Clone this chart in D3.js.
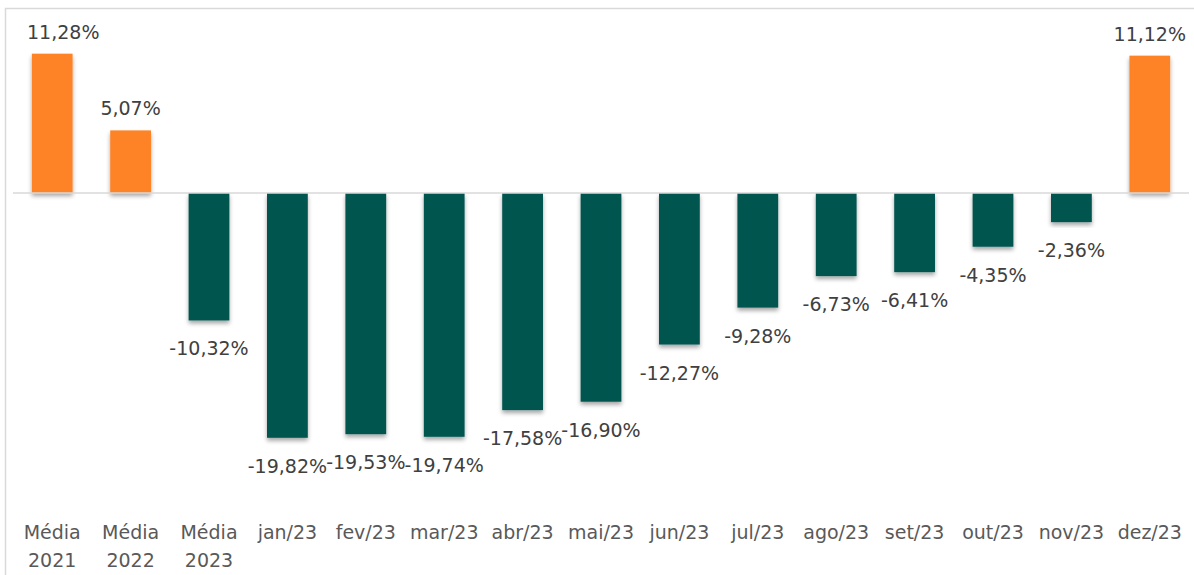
<!DOCTYPE html>
<html>
<head>
<meta charset="utf-8">
<script src="https://cdn.jsdelivr.net/npm/d3@7"></script>
<style>
  body { margin: 0; background: #fff; }
  svg { display: block; }
  text { font-family: "DejaVu Sans", sans-serif; }
</style>
</head>
<body>
<script>
const categories = ["Média 2021", "Média 2022", "Média 2023", "jan/23", "fev/23", "mar/23", "abr/23",
    "mai/23", "jun/23", "jul/23", "ago/23", "set/23", "out/23", "nov/23", "dez/23"];
const values = [11.28, 5.07, -10.32, -19.82, -19.53, -19.74, -17.58,
    -16.9, -12.27, -9.28, -6.73, -6.41, -4.35, -2.36, 11.12];
const highlighted = ["Média 2021", "Média 2022", "dez/23"];

const width = 1194, height = 575;

const svg = d3.select("body").append("svg")
    .attr("width", width)
    .attr("height", height);

const defs = svg.append("defs");
const shadow = defs.append("filter").attr("id", "shadow")
    .attr("x", "-20%").attr("y", "-10%").attr("width", "140%").attr("height", "130%");
shadow.append("feDropShadow")
    .attr("dx", 0).attr("dy", 3).attr("stdDeviation", 2)
    .attr("flood-color", "#000").attr("flood-opacity", 0.35);

// outer frame
svg.append("rect")
    .attr("x", 5.5).attr("y", 8.5)
    .attr("width", width + 20).attr("height", height + 20)
    .attr("fill", "none").attr("stroke", "#d9d9d9").attr("stroke-width", 1.5);

const x = d3.scaleBand()
    .domain(categories)
    .range([13, 1189])
    .paddingInner(0.48)
    .paddingOuter(0.24);

const y = d3.scaleLinear()
    .domain([-20, 12])
    .range([440, 44.8]);

const fmt = v => d3.format(".2f")(v).replace(".", ",").replace("\u2212", "-") + "%";

// bars
svg.append("g").selectAll("rect")
    .data(categories)
    .enter()
    .append("rect")
    .attr("x", d => x(d))
    .attr("width", x.bandwidth())
    .attr("y", (d, i) => Math.min(y(values[i]), y(0)))
    .attr("height", (d, i) => Math.abs(y(values[i]) - y(0)))
    .attr("fill", d => highlighted.includes(d) ? "#fe8326" : "#045450")
    .attr("filter", "url(#shadow)");

// zero line
svg.append("line")
    .attr("x1", 13).attr("x2", 1189)
    .attr("y1", y(0)).attr("y2", y(0))
    .attr("stroke", "#d9d9d9").attr("stroke-width", 1.5);

// value labels (kept inside the frame like the original)
svg.append("g").selectAll("text")
    .data(categories)
    .enter()
    .append("text")
    .attr("x", d => x(d) + x.bandwidth() / 2)
    .attr("y", (d, i) => values[i] >= 0 ? y(values[i]) - 15 : y(values[i]) + 35)
    .attr("text-anchor", "middle")
    .attr("font-size", 19)
    .attr("fill", "#404040")
    .text((d, i) => fmt(values[i]))
    .each(function () {
        const el = d3.select(this);
        const w = this.getComputedTextLength();
        const cx = +el.attr("x");
        if (cx - w / 2 < 27) el.attr("x", 27 + w / 2);
        if (cx + w / 2 > 1187) el.attr("x", 1187 - w / 2);
    });

// category axis
const axis = svg.append("g")
    .attr("transform", "translate(0,520)")
    .call(d3.axisBottom(x).tickSize(0).tickPadding(0));
axis.select(".domain").remove();
axis.selectAll("text")
    .attr("font-size", 19)
    .attr("fill", "#595959")
    .attr("font-family", null)
    .each(function (d) {
        const el = d3.select(this);
        const parts = d.split(" ");
        el.text(null).attr("y", 0).attr("dy", null);
        parts.forEach((p, i) => {
            el.append("tspan")
                .attr("x", 0)
                .attr("y", 19 + i * 28)
                .text(p);
        });
    });
</script>
</body>
</html>
